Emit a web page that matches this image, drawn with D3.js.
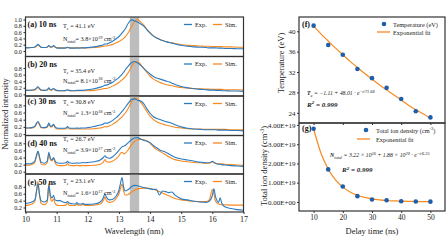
<!DOCTYPE html>
<html>
<head>
<meta charset="utf-8">
<script src="https://cdn.jsdelivr.net/npm/d3@7"></script>
<style>
  body { margin: 0; background: #fff; }
  svg { display: block; font-family: "Liberation Serif", "Times New Roman", serif; }
</style>
</head>
<body>
<svg id="chart" width="448" height="252"></svg>
<script>
"use strict";

// shared wavelength grid (nm), denser around the lines
const wavelength = [
  10.0, 10.1, 10.2, 10.3, 10.35, 10.4, 10.45, 10.5, 10.6, 10.7,
  10.75, 10.8, 10.85, 10.9, 10.95, 11.0, 11.1, 11.2, 11.3, 11.35,
  11.4, 11.5, 11.6, 11.65, 11.7, 11.8, 11.85, 11.9, 12.0, 12.2,
  12.4, 12.5, 12.55, 12.6, 12.7, 12.8, 12.9, 13.0, 13.05, 13.1,
  13.15, 13.2, 13.3, 13.4, 13.5, 13.6, 13.7, 13.8, 13.9, 14.0,
  14.1, 14.2, 14.3, 14.4, 14.5, 14.6, 14.7, 14.8, 14.9, 15.0,
  15.2, 15.4, 15.6, 15.8, 15.9, 16.0, 16.05, 16.1, 16.2, 16.25,
  16.3, 16.4, 16.6, 16.8, 17.0,
];

const exp10 = [
  0.10, 0.10, 0.11, 0.13, 0.17, 0.21, 0.17, 0.12, 0.11, 0.13,
  0.17, 0.13, 0.13, 0.17, 0.13, 0.10, 0.09, 0.09, 0.10, 0.12,
  0.10, 0.09, 0.09, 0.10, 0.09, 0.10, 0.10, 0.10, 0.11, 0.13,
  0.17, 0.20, 0.22, 0.22, 0.26, 0.31, 0.38, 0.46, 0.51, 0.57,
  0.63, 0.70, 0.88, 0.99, 0.96, 0.92, 0.86, 0.79, 0.67, 0.57,
  0.48, 0.42, 0.37, 0.33, 0.30, 0.27, 0.25, 0.22, 0.20, 0.18,
  0.15, 0.13, 0.12, 0.11, 0.10, 0.10, 0.10, 0.10, 0.09, 0.09,
  0.09, 0.08, 0.08, 0.07, 0.07,
];
const sim10 = [
  0.11, 0.11, 0.11, 0.12, 0.15, 0.19, 0.15, 0.12, 0.11, 0.12,
  0.16, 0.12, 0.12, 0.16, 0.12, 0.10, 0.10, 0.10, 0.10, 0.11,
  0.10, 0.10, 0.10, 0.10, 0.10, 0.10, 0.10, 0.10, 0.10, 0.11,
  0.13, 0.15, 0.16, 0.16, 0.18, 0.21, 0.25, 0.30, 0.33, 0.36,
  0.40, 0.45, 0.58, 0.76, 0.93, 1.00, 0.92, 0.82, 0.69, 0.58,
  0.49, 0.42, 0.37, 0.33, 0.30, 0.28, 0.26, 0.24, 0.22, 0.20,
  0.18, 0.17, 0.16, 0.15, 0.15, 0.14, 0.14, 0.14, 0.14, 0.14,
  0.14, 0.13, 0.13, 0.12, 0.12,
];
const exp20 = [
  0.12, 0.12, 0.13, 0.15, 0.19, 0.23, 0.18, 0.13, 0.12, 0.14,
  0.20, 0.14, 0.15, 0.18, 0.14, 0.12, 0.11, 0.11, 0.12, 0.14,
  0.12, 0.11, 0.11, 0.12, 0.12, 0.12, 0.12, 0.13, 0.14, 0.17,
  0.22, 0.25, 0.28, 0.28, 0.32, 0.37, 0.44, 0.51, 0.56, 0.61,
  0.67, 0.74, 0.86, 0.96, 1.00, 0.95, 0.88, 0.79, 0.70, 0.62,
  0.55, 0.50, 0.47, 0.44, 0.41, 0.38, 0.34, 0.30, 0.27, 0.24,
  0.20, 0.17, 0.15, 0.14, 0.13, 0.13, 0.13, 0.12, 0.12, 0.12,
  0.11, 0.11, 0.10, 0.10, 0.09,
];
const sim20 = [
  0.12, 0.12, 0.12, 0.13, 0.17, 0.21, 0.16, 0.12, 0.12, 0.13,
  0.18, 0.13, 0.13, 0.17, 0.13, 0.11, 0.11, 0.11, 0.11, 0.13,
  0.11, 0.11, 0.11, 0.11, 0.11, 0.11, 0.11, 0.11, 0.11, 0.12,
  0.15, 0.17, 0.18, 0.18, 0.21, 0.25, 0.30, 0.36, 0.40, 0.44,
  0.48, 0.53, 0.66, 0.83, 0.97, 0.99, 0.90, 0.78, 0.66, 0.55,
  0.47, 0.41, 0.37, 0.33, 0.30, 0.28, 0.26, 0.24, 0.22, 0.21,
  0.19, 0.18, 0.17, 0.16, 0.16, 0.15, 0.15, 0.15, 0.15, 0.15,
  0.15, 0.14, 0.14, 0.14, 0.13,
];
const exp30 = [
  0.17, 0.17, 0.18, 0.22, 0.30, 0.35, 0.28, 0.19, 0.18, 0.21,
  0.31, 0.22, 0.22, 0.27, 0.20, 0.17, 0.16, 0.16, 0.17, 0.21,
  0.17, 0.16, 0.16, 0.17, 0.16, 0.17, 0.17, 0.17, 0.18, 0.21,
  0.25, 0.28, 0.31, 0.30, 0.33, 0.38, 0.45, 0.53, 0.58, 0.63,
  0.68, 0.74, 0.86, 0.96, 0.98, 0.94, 0.92, 0.84, 0.70, 0.58,
  0.49, 0.44, 0.41, 0.38, 0.35, 0.33, 0.30, 0.26, 0.23, 0.20,
  0.16, 0.14, 0.13, 0.12, 0.12, 0.12, 0.12, 0.12, 0.11, 0.11,
  0.11, 0.11, 0.10, 0.10, 0.09,
];
const sim30 = [
  0.17, 0.17, 0.17, 0.20, 0.27, 0.33, 0.25, 0.18, 0.17, 0.19,
  0.28, 0.20, 0.20, 0.25, 0.18, 0.15, 0.14, 0.14, 0.15, 0.18,
  0.15, 0.14, 0.14, 0.14, 0.14, 0.14, 0.14, 0.14, 0.14, 0.15,
  0.17, 0.19, 0.21, 0.20, 0.23, 0.27, 0.33, 0.40, 0.44, 0.48,
  0.53, 0.58, 0.72, 0.89, 1.00, 0.97, 0.88, 0.76, 0.62, 0.50,
  0.41, 0.35, 0.31, 0.28, 0.25, 0.23, 0.21, 0.19, 0.18, 0.17,
  0.15, 0.14, 0.14, 0.13, 0.13, 0.13, 0.13, 0.13, 0.13, 0.13,
  0.13, 0.13, 0.12, 0.12, 0.12,
];
const exp40 = [
  0.22, 0.22, 0.24, 0.30, 0.45, 0.58, 0.42, 0.27, 0.24, 0.30,
  0.55, 0.38, 0.33, 0.40, 0.30, 0.25, 0.24, 0.24, 0.25, 0.29,
  0.25, 0.24, 0.24, 0.25, 0.24, 0.25, 0.26, 0.25, 0.26, 0.28,
  0.33, 0.40, 0.45, 0.40, 0.38, 0.42, 0.50, 0.60, 0.66, 0.70,
  0.72, 0.74, 0.82, 0.90, 0.95, 0.96, 0.92, 0.88, 0.86, 0.82,
  0.74, 0.68, 0.62, 0.58, 0.55, 0.50, 0.45, 0.41, 0.38, 0.36,
  0.33, 0.30, 0.27, 0.25, 0.25, 0.29, 0.27, 0.24, 0.21, 0.21,
  0.20, 0.19, 0.17, 0.16, 0.15,
];
const sim40 = [
  0.18, 0.18, 0.20, 0.27, 0.42, 0.56, 0.38, 0.22, 0.19, 0.26,
  0.50, 0.33, 0.30, 0.38, 0.25, 0.19, 0.17, 0.17, 0.18, 0.23,
  0.18, 0.17, 0.17, 0.18, 0.17, 0.17, 0.18, 0.17, 0.17, 0.18,
  0.21, 0.27, 0.34, 0.28, 0.27, 0.30, 0.36, 0.45, 0.52, 0.55,
  0.50, 0.52, 0.62, 0.75, 0.85, 0.90, 0.91, 0.90, 0.87, 0.80,
  0.71, 0.63, 0.58, 0.53, 0.48, 0.42, 0.37, 0.34, 0.32, 0.30,
  0.28, 0.26, 0.25, 0.24, 0.24, 0.28, 0.25, 0.23, 0.22, 0.22,
  0.22, 0.21, 0.20, 0.19, 0.18,
];
const exp50 = [
  0.32, 0.33, 0.36, 0.42, 0.65, 0.88, 0.58, 0.40, 0.36, 0.42,
  0.85, 0.55, 0.48, 0.55, 0.42, 0.40, 0.40, 0.36, 0.34, 0.37,
  0.33, 0.31, 0.30, 0.34, 0.30, 0.30, 0.32, 0.29, 0.29, 0.30,
  0.36, 0.48, 0.60, 0.50, 0.42, 0.44, 0.52, 0.70, 0.90, 1.07,
  0.80, 0.68, 0.72, 0.80, 0.84, 0.83, 0.80, 0.78, 0.76, 0.74,
  0.72, 0.73, 0.56, 0.68, 0.66, 0.63, 0.65, 0.56, 0.50, 0.45,
  0.42, 0.38, 0.36, 0.35, 0.38, 0.55, 0.74, 0.52, 0.35, 0.48,
  0.33, 0.22, 0.17, 0.14, 0.12,
];
const sim50 = [
  0.26, 0.27, 0.30, 0.38, 0.65, 0.95, 0.55, 0.32, 0.28, 0.36,
  0.90, 0.48, 0.38, 0.45, 0.32, 0.27, 0.26, 0.26, 0.27, 0.32,
  0.27, 0.26, 0.26, 0.29, 0.27, 0.27, 0.29, 0.26, 0.26, 0.27,
  0.30, 0.40, 0.50, 0.40, 0.35, 0.37, 0.45, 0.60, 0.75, 0.88,
  0.68, 0.56, 0.58, 0.64, 0.70, 0.74, 0.75, 0.76, 0.76, 0.75,
  0.73, 0.70, 0.66, 0.62, 0.58, 0.54, 0.50, 0.46, 0.44, 0.42,
  0.40, 0.38, 0.37, 0.37, 0.42, 0.72, 0.60, 0.38, 0.30, 0.29,
  0.28, 0.28, 0.27, 0.27, 0.27,
];

const panelNames = ["(a) 10 ns", "(b) 20 ns", "(c) 30 ns", "(d) 40 ns", "(e) 50 ns"];
const tempText = ["41.1", "35.4", "30.8", "26.7", "23.1"];
const densMantissa = ["3.8", "8.1", "1.3", "3.9", "1.6"];
const densPower = ["19", "18", "18", "17", "17"];
const wlTicks = [10, 11, 12, 13, 14, 15, 16, 17];

// right hand panels
const delay = [10, 15, 20, 25, 30, 35, 40, 45, 50];
const temperature = [41.1, 37.3, 35.4, 32.6, 30.8, 28.9, 26.7, 24.3, 23.1];
const density = [3.8, 1.69, 0.8, 0.3, 0.13, 0.09, 0.039, 0.025, 0.016]; // x1e19 cm-3
const fitTime = [10, 12.5, 15, 17.5, 20, 22.5, 25, 27.5, 30, 32.5, 35, 37.5, 40, 42.5, 45, 47.5, 50];
const tempFit = [41.0, 39.5, 38.1, 36.7, 35.4, 34.1, 32.9, 31.7, 30.6, 29.5, 28.5, 27.5, 26.5, 25.5, 24.6, 23.8, 22.9];
const densityFit = [3.8, 2.54, 1.71, 1.14, 0.77, 0.52, 0.35, 0.24, 0.16, 0.11, 0.075, 0.055, 0.04, 0.03, 0.022, 0.018, 0.015];
const tempTicks = [24, 28, 32, 36, 40];
const densTicks = [0, 1, 2, 3, 4];
const delayTicks = [10, 20, 30, 40, 50];

const expSeries = [exp10, exp20, exp30, exp40, exp50];
const simSeries = [sim10, sim20, sim30, sim40, sim50];

const blue = "#2b7bc0";
const dotBlue = "#1f5ea8";
const orange = "#f7891f";
const frameColor = "#333";

const svg = d3.select("#chart");

// ---------- left stacked spectra ----------
const tops = [17, 56.5, 96, 135.5, 174, 212];
const yDomains = [[-0.175, 1.08], [-0.05, 1.15], [-0.04, 1.06], [-0.065, 1.02], [0.07, 1.17]];
const yTicks = [[0, 0.2, 0.4, 0.6, 0.8, 1.0], [0, 0.2, 0.4, 0.6, 0.8], [0, 0.2, 0.4, 0.6, 0.8], [0, 0.2, 0.4, 0.6, 0.8], [0.2, 0.4, 0.6, 0.8]];
// text offsets from panel top: [name, Te, Ntotal]
const textOffsets = [[10, 11, 24], [10, 16, 26], [8, 8, 19], [10, 5, 16.5], [11, 9, 21]];

const x = d3.scaleLinear().domain([10, 17]).range([25.5, 243.5]);

function styleAxis(g, size) {
  g.selectAll("path").attr("stroke", frameColor);
  g.selectAll("line").attr("stroke", frameColor);
  g.selectAll("text").attr("font-size", size).attr("fill", "#222")
    .attr("font-family", '"Liberation Serif", serif');
}

panelNames.forEach((name, i) => {
  const y = d3.scaleLinear().domain(yDomains[i]).range([tops[i + 1], tops[i]]);
  const g = svg.append("g");

  g.append("clipPath").attr("id", "clip" + i)
    .append("rect")
    .attr("x", x(10)).attr("y", tops[i])
    .attr("width", x(17) - x(10)).attr("height", tops[i + 1] - tops[i]);

  // shaded window
  g.append("rect")
    .attr("x", x(13.35)).attr("y", tops[i])
    .attr("width", x(13.65) - x(13.35)).attr("height", tops[i + 1] - tops[i])
    .attr("fill", "#bdbdbd");

  const line = d3.line()
    .x((d, j) => x(wavelength[j]))
    .y((d) => y(d))
    .curve(d3.curveMonotoneX);

  const plot = g.append("g").attr("clip-path", `url(#clip${i})`);
  plot.append("path").attr("d", line(simSeries[i]))
    .attr("fill", "none").attr("stroke", orange).attr("stroke-width", 1.1);
  plot.append("path").attr("d", line(expSeries[i]))
    .attr("fill", "none").attr("stroke", blue).attr("stroke-width", 1.1);

  // frame
  g.append("rect")
    .attr("x", x(10)).attr("y", tops[i])
    .attr("width", x(17) - x(10)).attr("height", tops[i + 1] - tops[i])
    .attr("fill", "none").attr("stroke", frameColor).attr("stroke-width", 1.2);

  const yAxis = d3.axisLeft(y).tickValues(yTicks[i]).tickSize(2).tickPadding(1.5)
    .tickFormat(d3.format(".1f"));
  const ya = g.append("g").attr("transform", `translate(${x(10)},0)`).call(yAxis);
  ya.select(".domain").remove();
  styleAxis(ya, 6.3);

  // legend
  const ly = tops[i] + 7.5;
  g.append("line").attr("x1", 184).attr("x2", 192).attr("y1", ly).attr("y2", ly)
    .attr("stroke", blue).attr("stroke-width", 1.3);
  g.append("text").attr("x", 195).attr("y", ly + 2).attr("font-size", 6.3).attr("fill", "#222").text("Exp.");
  g.append("line").attr("x1", 213).attr("x2", 222).attr("y1", ly).attr("y2", ly)
    .attr("stroke", orange).attr("stroke-width", 1.3);
  g.append("text").attr("x", 225).attr("y", ly + 2).attr("font-size", 6.3).attr("fill", "#222").text("Sim.");

  // annotations
  const off = textOffsets[i];
  g.append("text").attr("x", 27.5).attr("y", tops[i] + off[0])
    .attr("font-size", 8).attr("font-weight", "bold").attr("fill", "#111").text(name);

  const te = g.append("text").attr("x", 63).attr("y", tops[i] + off[1])
    .attr("font-size", 6.2).attr("fill", "#222");
  te.append("tspan").text("T");
  te.append("tspan").attr("font-size", 4.5).attr("dy", 1.5).text("e");
  te.append("tspan").attr("dy", -1.5).text(` = ${tempText[i]} eV`);

  const nt = g.append("text").attr("x", 63).attr("y", tops[i] + off[2])
    .attr("font-size", 6.2).attr("fill", "#222");
  nt.append("tspan").text("N");
  nt.append("tspan").attr("font-size", 4.5).attr("dy", 1.5).text("total");
  nt.append("tspan").attr("dy", -1.5).text(`= ${densMantissa[i]}×10`);
  nt.append("tspan").attr("font-size", 4.5).attr("dy", -2.5).text(densPower[i]);
  nt.append("tspan").attr("dy", 2.5).text(" cm");
  nt.append("tspan").attr("font-size", 4.5).attr("dy", -2.5).text("-3");
});

const xAxis = d3.axisBottom(x).tickValues(wlTicks).tickSize(2).tickPadding(2).tickFormat(d3.format("d"));
const xa = svg.append("g").attr("transform", `translate(0,${tops[5]})`).call(xAxis);
xa.select(".domain").remove();
styleAxis(xa, 8);

svg.append("text").attr("x", 134).attr("y", 234).attr("text-anchor", "middle")
  .attr("font-size", 8.5).attr("fill", "#222").text("Wavelength (nm)");
svg.append("text").attr("transform", "translate(8,114) rotate(-90)").attr("text-anchor", "middle")
  .attr("font-size", 8.5).attr("fill", "#222").text("Normalized intensity");

// ---------- right panels ----------
const rx = d3.scaleLinear().domain([5, 55]).range([299, 445]);
const fTop = 17, fBot = 123, gBot = 211;
const yT = d3.scaleLinear().domain([22, 42.8]).range([fBot, fTop]);
const yN = d3.scaleLinear().domain([-0.47, 4.1]).range([gBot, fBot]);

function drawPanel(yScale, top, bot, values, fit, ticks, fmt, showX) {
  const g = svg.append("g");
  const fitLine = d3.line().x((d, j) => rx(fitTime[j])).y((d) => yScale(d)).curve(d3.curveMonotoneX);
  g.append("path").attr("d", fitLine(fit)).attr("fill", "none")
    .attr("stroke", orange).attr("stroke-width", 1.2);
  g.selectAll("circle").data(values).join("circle")
    .attr("cx", (d, j) => rx(delay[j])).attr("cy", (d) => yScale(d))
    .attr("r", 2.3).attr("fill", dotBlue);
  g.append("rect").attr("x", rx(5)).attr("y", top)
    .attr("width", rx(55) - rx(5)).attr("height", bot - top)
    .attr("fill", "none").attr("stroke", frameColor).attr("stroke-width", 1.2);
  const ya = g.append("g").attr("transform", `translate(${rx(5)},0)`)
    .call(d3.axisLeft(yScale).tickValues(ticks).tickSize(2).tickPadding(1.5).tickFormat(fmt));
  ya.select(".domain").remove();
  styleAxis(ya, 7);
  const xa = g.append("g").attr("transform", `translate(0,${bot})`)
    .call(d3.axisBottom(rx).tickValues(delayTicks).tickSize(2).tickPadding(2)
      .tickFormat(showX ? d3.format("d") : ""));
  xa.select(".domain").remove();
  styleAxis(xa, 7.5);
  return g;
}

const fPanel = drawPanel(yT, fTop, fBot, temperature, tempFit, tempTicks, d3.format("d"), false);
const gPanel = drawPanel(yN, fBot, gBot, density, densityFit, densTicks,
  (d) => (d === 0 ? "0.00E+00" : d.toFixed(2) + "E+19"), true);

// panel (f) text
fPanel.append("text").attr("x", 302).attr("y", 27).attr("font-size", 8)
  .attr("font-weight", "bold").attr("fill", "#111").text("(f)");
fPanel.append("circle").attr("cx", 384).attr("cy", 24).attr("r", 2.3).attr("fill", dotBlue);
fPanel.append("text").attr("x", 393).attr("y", 26.5).attr("font-size", 6.3).attr("fill", "#222").text("Temperature (eV)");
fPanel.append("line").attr("x1", 377).attr("x2", 390).attr("y1", 32).attr("y2", 32)
  .attr("stroke", orange).attr("stroke-width", 1.3);
fPanel.append("text").attr("x", 393).attr("y", 34.5).attr("font-size", 6.3).attr("fill", "#222").text("Exponential fit");

const fEq = fPanel.append("text").attr("x", 307).attr("y", 95).attr("font-size", 5.8)
  .attr("font-style", "italic").attr("fill", "#222");
fEq.append("tspan").attr("font-weight", "bold").text("T");
fEq.append("tspan").attr("font-size", 4.3).attr("dy", 1.5).text("e");
fEq.append("tspan").attr("dy", -1.5).text(" = −1.11 + 48.01 · e");
fEq.append("tspan").attr("font-size", 4.3).attr("dy", -2.5).text("−t/71.68");
const fR = fPanel.append("text").attr("x", 307).attr("y", 106.5).attr("font-size", 7)
  .attr("font-style", "italic").attr("font-weight", "bold").attr("fill", "#222");
fR.append("tspan").text("R");
fR.append("tspan").attr("font-size", 5).attr("dy", -2.5).text("2");
fR.append("tspan").attr("dy", 2.5).text(" = 0.999");

// panel (g) text
gPanel.append("text").attr("x", 302).attr("y", 131).attr("font-size", 8)
  .attr("font-weight", "bold").attr("fill", "#111").text("(g)");
gPanel.append("circle").attr("cx", 366).attr("cy", 130).attr("r", 2.3).attr("fill", dotBlue);
const gl = gPanel.append("text").attr("x", 376).attr("y", 132.5).attr("font-size", 6.3).attr("fill", "#222");
gl.append("tspan").text("Total ion density (cm");
gl.append("tspan").attr("font-size", 4.5).attr("dy", -2.5).text("-3");
gl.append("tspan").attr("dy", 2.5).text(")");
gPanel.append("line").attr("x1", 357).attr("x2", 370).attr("y1", 139).attr("y2", 139)
  .attr("stroke", orange).attr("stroke-width", 1.3);
gPanel.append("text").attr("x", 376).attr("y", 141.5).attr("font-size", 6.3).attr("fill", "#222").text("Exponential fit");

const gEq = gPanel.append("text").attr("x", 330).attr("y", 157).attr("font-size", 5.8)
  .attr("font-style", "italic").attr("fill", "#222");
gEq.append("tspan").attr("font-weight", "bold").text("N");
gEq.append("tspan").attr("font-size", 4.3).attr("dy", 1.5).text("total");
gEq.append("tspan").attr("dy", -1.5).text(" = 3.22 × 10");
gEq.append("tspan").attr("font-size", 4.3).attr("dy", -2.5).text("16");
gEq.append("tspan").attr("dy", 2.5).text(" + 1.88 × 10");
gEq.append("tspan").attr("font-size", 4.3).attr("dy", -2.5).text("20");
gEq.append("tspan").attr("dy", 2.5).text(" · e");
gEq.append("tspan").attr("font-size", 4.3).attr("dy", -2.5).text("−t/6.25");
const gR = gPanel.append("text").attr("x", 342).attr("y", 172).attr("font-size", 7)
  .attr("font-style", "italic").attr("font-weight", "bold").attr("fill", "#222");
gR.append("tspan").text("R");
gR.append("tspan").attr("font-size", 5).attr("dy", -2.5).text("2");
gR.append("tspan").attr("dy", 2.5).text(" = 0.999");

svg.append("text").attr("x", 372).attr("y", 234).attr("text-anchor", "middle")
  .attr("font-size", 8.5).attr("fill", "#222").text("Delay time (ns)");
svg.append("text").attr("transform", "translate(284,63) rotate(-90)").attr("text-anchor", "middle")
  .attr("font-size", 8.5).attr("fill", "#222").text("Temperature (eV)");
const dl = svg.append("text").attr("transform", "translate(267,166) rotate(-90)").attr("text-anchor", "middle")
  .attr("font-size", 8.5).attr("fill", "#222");
dl.append("tspan").text("Total ion density (cm");
dl.append("tspan").attr("font-size", 6).attr("dy", -3).text("-3");
dl.append("tspan").attr("dy", 3).text(")");
</script>
</body>
</html>
